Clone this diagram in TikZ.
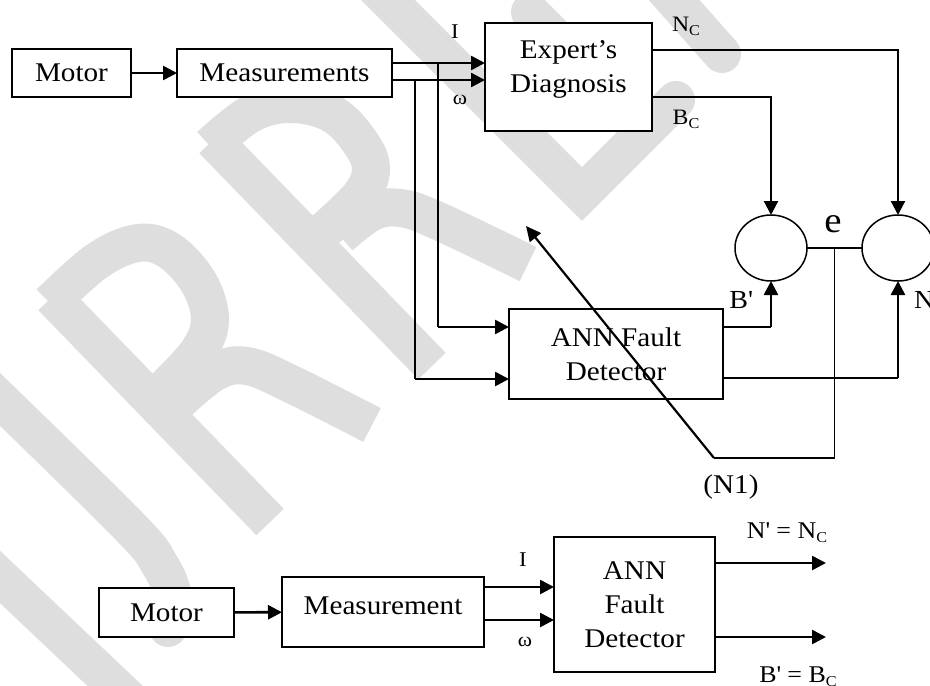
\documentclass[tikz,border=0pt]{standalone}
\usepackage{fontspec}
\setmainfont{Liberation Serif}[FakeStretch=1.08]
\usetikzlibrary{arrows.meta,shapes.geometric,calc}
\definecolor{wmgray}{RGB}{222,222,222}
\newcommand\fmain{\fontsize{27}{34}\selectfont}
\newcommand\flab{\fontsize{22}{24}\selectfont}
\newcommand\fsmall{\fontsize{24}{26}\selectfont}
\newcommand\fsub{\fontsize{15}{15}\selectfont}
\newcommand\sC{\raisebox{-4pt}{\fsub C}}
\newcommand\pr{\textquotesingle}
\begin{document}
\begin{tikzpicture}[x=1pt,y=-1pt,
  box/.style={draw,fill=white,line width=1.5pt,inner sep=0pt,outer sep=0pt,align=center,font=\fmain},
  sumnode/.style={draw,ellipse,line width=1.5pt,inner sep=0pt,outer sep=0pt,minimum width=72pt,minimum height=66pt},
  txt/.style={inner sep=0pt,outer sep=0pt,align=center,font=\fmain},
  lbl/.style={inner sep=0pt,outer sep=0pt,font=\flab},
  thkarr/.style={line width=2.6pt,-{Triangle[length=14pt,width=14pt]}},
  medarr/.style={line width=2.2pt,-{Triangle[length=14pt,width=14pt]}},
  medline/.style={line width=2pt},
  thnline/.style={line width=1.5pt},
  diagarr/.style={line width=2.2pt,-{Triangle[length=15pt,width=14pt]}},
  wm/.style={draw=wmgray,line width=38pt,line join=round,line cap=butt}]
\fill[white] (0,0) rectangle (930,686);
\useasboundingbox (0,0) rectangle (930,686);

% ---------- watermark (light grey letters) ----------
% left R
\draw[wm] (52,297) -- (270,522);
\draw[wm] plot[smooth,tension=0.6] coordinates {(50,303) (97,261) (138,243) (170,251) (199,283) (210,320) (198,352) (165,388)};
\draw[wm] plot[smooth,tension=0.6] coordinates {(178,402) (215,372) (247,366) (291,384) (372,425)};
% middle R
\draw[wm] (213,140) -- (432,366);
\draw[wm] plot[smooth,tension=0.6] coordinates {(210,146) (252,113) (293,104) (334,115) (362,145) (371,170) (360,196) (325,230)};
\draw[wm] plot[smooth,tension=0.6] coordinates {(340,236) (372,212) (400,208) (436,220) (528,264)};
% left strokes
\draw[wm,line cap=round] plot[smooth,tension=0.6] coordinates {(-20,380) (127,524) (160,565) (173,598) (168,628)};
\draw[wm] (-20,558) -- (130,700);
% upper right strokes
\draw[wm,line join=miter] (340,-48) -- (582,194) -- (668,108);
\draw[wm,line cap=round] (668,108) -- (676,100);
\draw[wm,line cap=round] (530,12) -- (600,82);
\draw[wm,line cap=round] (630,-50) -- (722,54);

% ---------- upper diagram ----------
\node[box,minimum width=119pt,minimum height=48pt] (motor1) at (71.5,73) {Motor};
\node[box,minimum width=215pt,minimum height=48pt] (meas1) at (284.5,73) {Measurements};
\node[box,minimum width=167pt,minimum height=108pt] (expert) at (568.5,77) {};
\node[txt] (experttxt) at (568.5,69) {Expert’s\\Diagnosis};
\node[box,minimum width=214pt,minimum height=90pt] (ann1) at (616,354) {ANN Fault\\Detector};
\node[sumnode] (c1) at (771,248) {};
\node[sumnode] (c2) at (898,248) {};

\draw[thkarr] (motor1) -- (meas1);
\coordinate (iOut) at ([yshift=10pt]meas1.east);
\coordinate (wOut) at ([yshift=-7pt]meas1.east);
\draw[thkarr] (iOut) -- (iOut -| expert.west);
\draw[thkarr] (wOut) -- (wOut -| expert.west);

\coordinate (tapI) at (438,63);
\coordinate (tapW) at (415,80);
\coordinate (annIn1) at ([yshift=27pt]ann1.west);
\coordinate (annIn2) at ([yshift=-25pt]ann1.west);
\draw[medline] (tapI) -- (tapI |- annIn1);
\draw[thkarr] (tapI |- annIn1) -- (annIn1);
\draw[medline] (tapW) -- (tapW |- annIn2);
\draw[thkarr] (tapW |- annIn2) -- (annIn2);

\coordinate (ncOut) at ([yshift=27pt]expert.east);
\coordinate (bcOut) at ([yshift=-20pt]expert.east);
\draw[medarr] (ncOut) -| (c2.north);
\draw[medarr] (bcOut) -| (c1.north);

\coordinate (aOut1) at ([yshift=27pt]ann1.east);
\coordinate (aOut2) at ([yshift=-24pt]ann1.east);
\draw[thnline] (aOut1) -- (aOut1 -| c1.south);
\draw[thkarr] (aOut1 -| c1.south) -- (c1.south);
\draw[thnline] (aOut2) -- (aOut2 -| c2.south);
\draw[thkarr] (aOut2 -| c2.south) -- (c2.south);

\draw[thnline] (c1.east) -- (c2.west);
\coordinate (eTap) at ($(c1.east)!0.5!(c2.west)$);
\coordinate (eCorner) at (eTap |- 0,458);
\coordinate (n1foot) at (714,458);
\coordinate (n1tip) at (526,226);
\draw[thnline] (eTap) -- (eCorner) -- (n1foot);
\draw[diagarr] (n1foot) -- (n1tip);

\node[lbl,font=\fontsize{21}{22}\selectfont] (lI1) at (455,32) {I};
\node[lbl,font=\fontsize{20}{22}\selectfont] (lw1) at (460,100) {ω};
\node[lbl] (lNC) at (686,26) {N\sC};
\node[lbl] (lBC) at (686,119) {B\sC};
\node[lbl,font=\fontsize{36}{36}\selectfont] (le) at (833,224) {e};
\node[lbl,font=\fontsize{26}{28}\selectfont] (lBp) at (741,300) {B\pr};
\node[lbl,font=\fontsize{26}{28}\selectfont,anchor=west] (lNp) at (914,300) {N\pr};
\node[txt] (lN1) at (731,487) {(N1)};

% ---------- lower diagram ----------
\node[box,minimum width=135pt,minimum height=49pt] (motor2) at (166.5,612.5) {Motor};
\node[box,minimum width=202pt,minimum height=70pt] (meas2) at (383,612) {};
\node[txt] (meas2txt) at (383,606) {Measurement};
\node[box,minimum width=161pt,minimum height=135pt] (ann2) at (634.5,604.5) {ANN\\Fault\\Detector};

\draw[thkarr] (motor2) -- (meas2);
\coordinate (i2Out) at ([yshift=25pt]meas2.east);
\coordinate (w2Out) at ([yshift=-8pt]meas2.east);
\draw[thkarr] (i2Out) -- (i2Out -| ann2.west);
\draw[thkarr] (w2Out) -- (w2Out -| ann2.west);

\coordinate (o1) at ([yshift=41.5pt]ann2.east);
\coordinate (o2) at ([yshift=-32.5pt]ann2.east);
\coordinate (o1end) at (826,563);
\coordinate (o2end) at (826,637);
\draw[thkarr] (o1) -- (o1end);
\draw[thkarr] (o2) -- (o2end);

\node[lbl,font=\fontsize{21}{22}\selectfont] (lI2) at (523,560) {I};
\node[lbl,font=\fontsize{20}{22}\selectfont] (lw2) at (525,642) {ω};
\node[lbl,font=\fsmall] (lNeq) at (787,533) {N\pr{} = N\sC};
\node[lbl,font=\fsmall] (lBeq) at (798,677) {B\pr{} = B\sC};
\end{tikzpicture}
\end{document}
